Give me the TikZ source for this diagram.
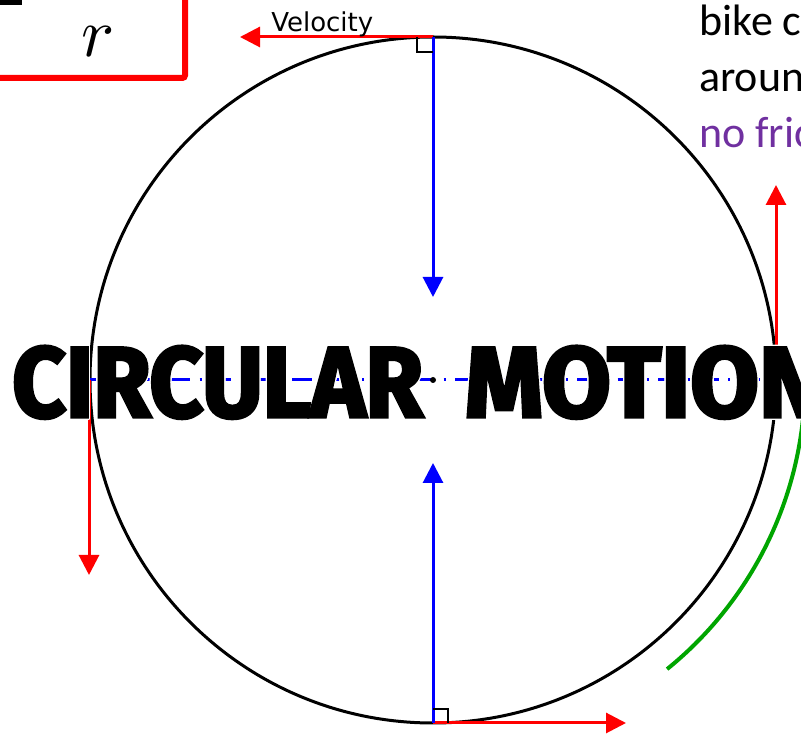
\documentclass[tikz,border=0pt]{standalone}
\usepackage{fontspec}
\usepackage[copies]{contour}
\usepackage{xcolor}
\usetikzlibrary{arrows.meta}
\usetikzlibrary{positioning}
\newfontfamily\labelfont{DejaVu Sans}
\newfontfamily\notefont{Carlito}
\newfontfamily\titlefont{Fira Sans}[BoldFeatures={FakeBold=3.5}]
\definecolor{notepurple}{RGB}{112,48,160}
\definecolor{arcgreen}{RGB}{0,165,0}
\contourlength{1pt}
\contournumber{24}
\newcommand{\titleword}[2]{\resizebox{#1}{53pt}{\titlefont\bfseries\fontsize{80}{80}\selectfont\contour{white}{#2}}}

\begin{document}
\begin{tikzpicture}[x=0.75pt, y=-0.75pt,
    velarrow/.style={red, line width=2.25pt, -{Triangle[length=15pt, width=15pt]}},
    accarrow/.style={blue, line width=2.25pt, -{Triangle[length=15pt, width=15pt]}},
    rightmark/.style={black, line width=1.5pt},
    notetext/.style={anchor=base west, inner sep=0, font=\notefont\fontsize{33}{38}\selectfont}]
        \useasboundingbox (0,0) rectangle (801,737);
        \clip (0,0) rectangle (801,737);
        % points on the loop
        \coordinate (O) at (433,380);
        \coordinate (top) at (433,37);
        \coordinate (bottom) at (433,723);
        \coordinate (left) at (89,380);
        \coordinate (right) at (776,380);
        % free ends of the arrows
        \coordinate (vtop) at (240,37);
        \coordinate (vbottom) at (626,723);
        \coordinate (vleft) at (89,575);
        \coordinate (vright) at (776,185);
        \coordinate (atop) at (433,297);
        \coordinate (abottom) at (433,463);

        % formula box, cut by the page edge
        \draw[red, line width=4.5pt, rounded corners=2pt] (-30,-30) rectangle (185,78);
        \draw[line width=3.75pt] (-5,2.5) -- (22,2.5);
        \node[anchor=base, inner sep=0] (den) at (98,57) {\scalebox{5.2}{$r$}};

        \draw[line width=2.25pt] (O) circle[radius=343];
        \draw[arcgreen, line width=3pt] (O) ++(0:372) arc[start angle=0, end angle=51, radius=372];
        \draw[blue, line width=2.25pt, dash pattern=on 15pt off 7pt on 1.5pt off 7pt] (left) -- (right);
        \fill (O) circle[radius=3];

        % velocity and acceleration
        \draw[velarrow] (top) -- (vtop);
        \draw[velarrow] (bottom) -- (vbottom);
        \draw[velarrow] (left) -- (vleft);
        \draw[velarrow] (right) -- (vright);
        \draw[accarrow] (top) -- (atop);
        \draw[accarrow] (bottom) -- (abottom);
        \draw[rightmark] (417,37) |- (433,52);
        \draw[rightmark] (448,723) |- (433,709);
        \node[anchor=base west, inner sep=0, font=\labelfont\fontsize{19.5}{20}\selectfont] (vlabel) at (271,32) {Velocity};

        % note at the top right
        \node[notetext] (note1) at (699,36) {bike c};
        \node[notetext] (note2) at (699,92) {aroun};
        \node[notetext, text=notepurple] (note3) at (699,148) {no fric};

        \node[anchor=west, inner sep=0] (title) at (12,383)
            {\titleword{308pt}{CIRCULAR}\hspace{31.5pt}\titleword{270pt}{MOTION}};
    \end{tikzpicture}
\end{document}
